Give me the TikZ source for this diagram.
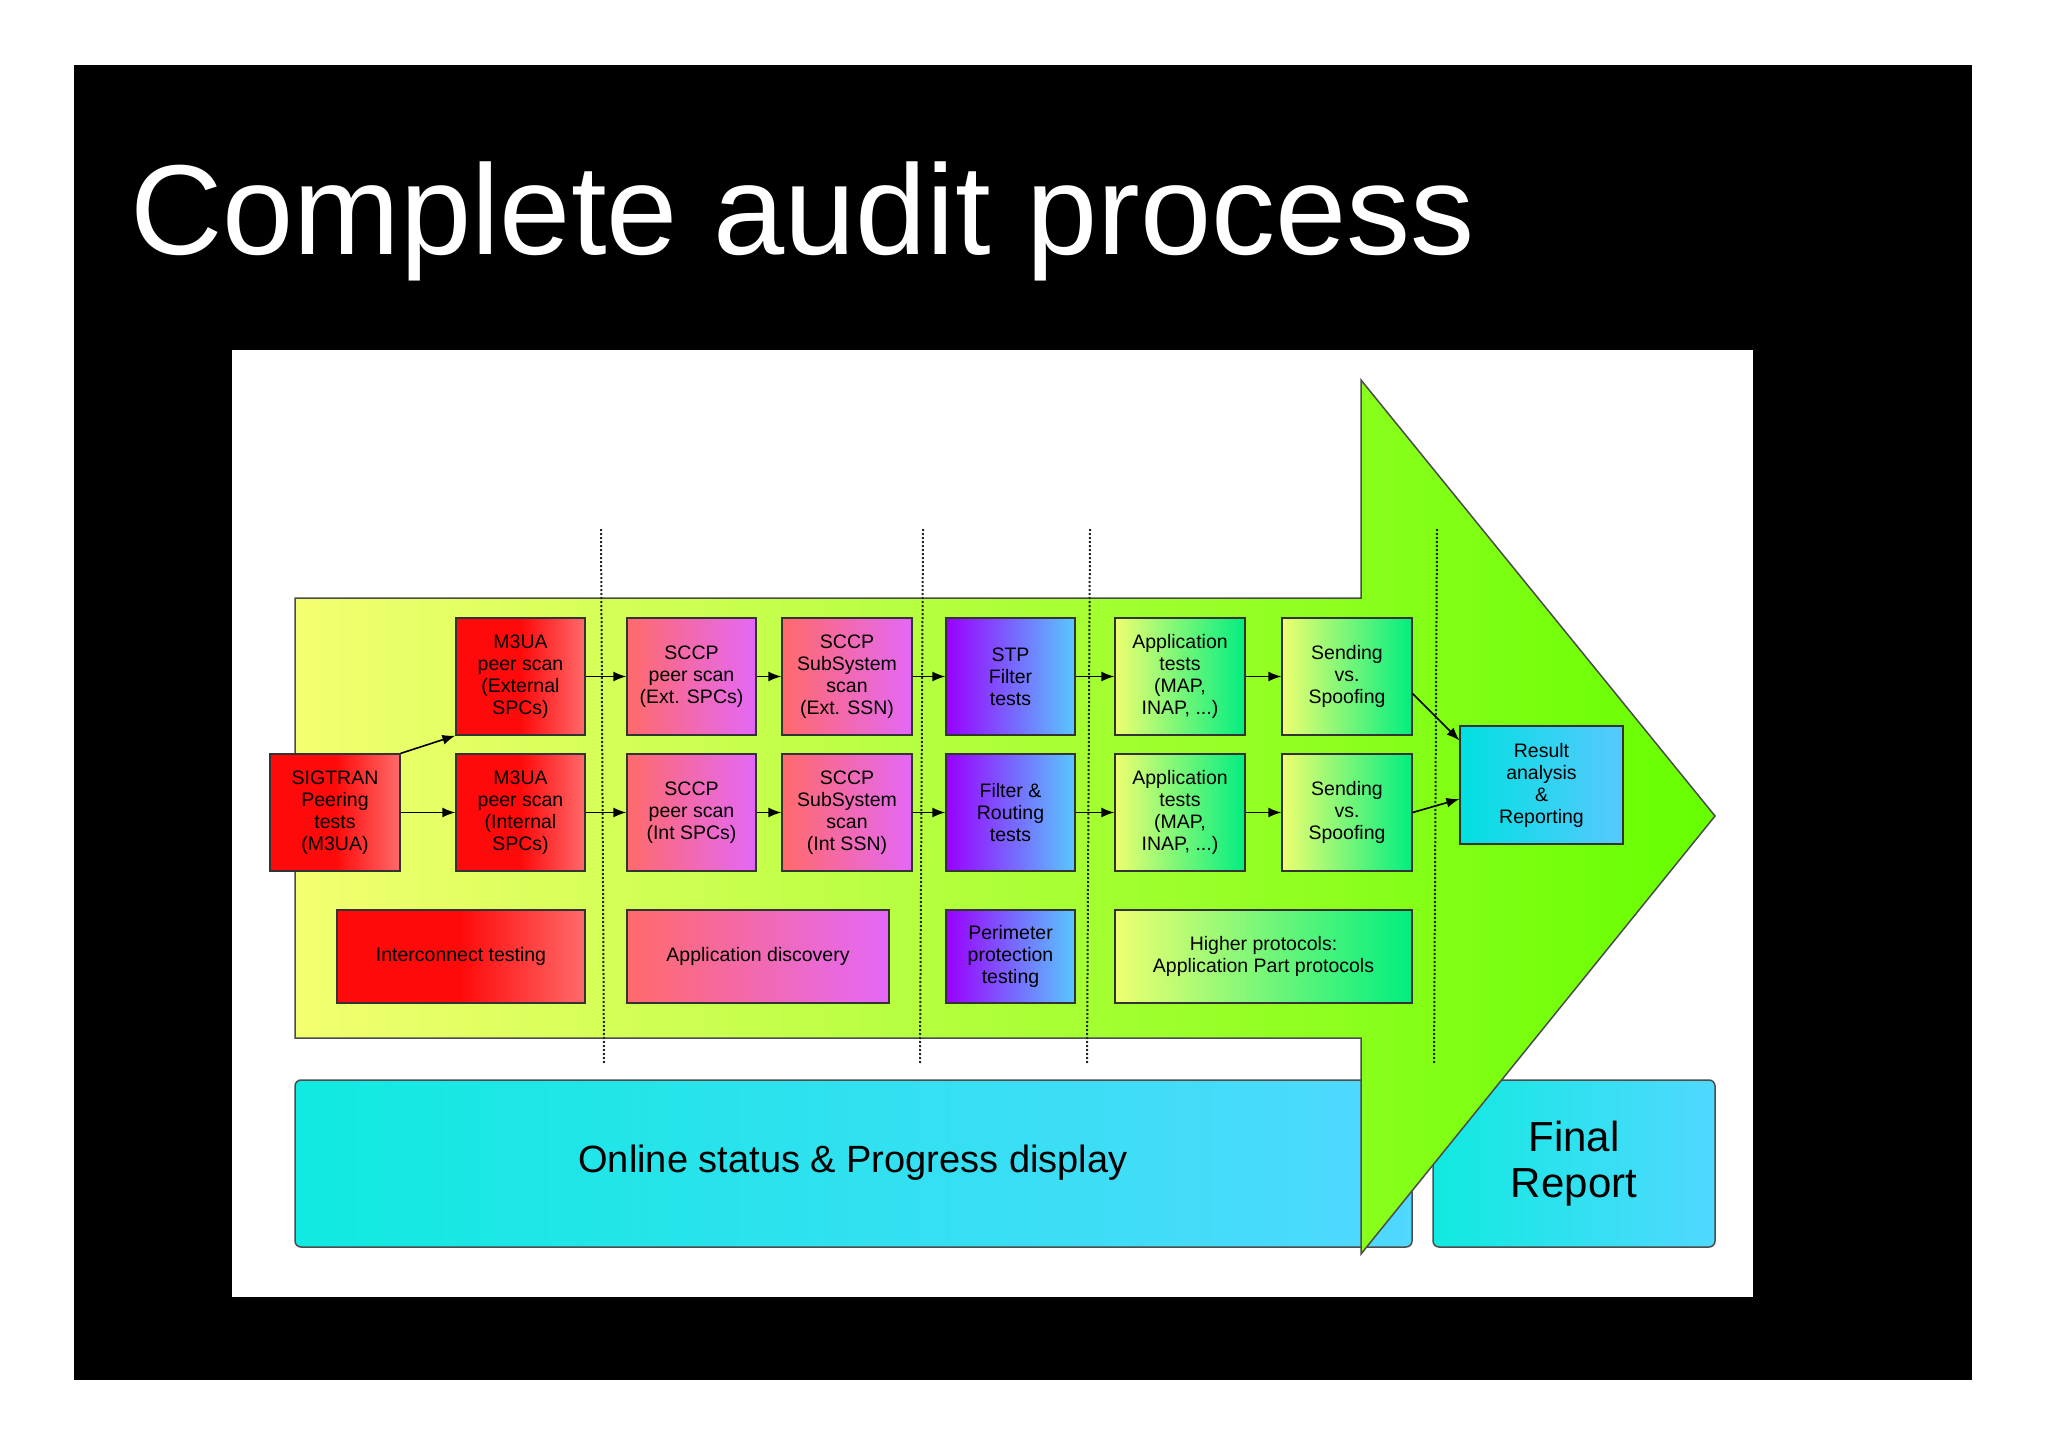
\documentclass[tikz,border=0pt]{standalone}
\usepackage{fontspec}
\setmainfont{Liberation Sans}
\usetikzlibrary{arrows.meta}
\definecolor{rd}{HTML}{FF0A0A}
\definecolor{sal}{HTML}{FF6A6A}
\definecolor{pk}{HTML}{F06AD8}
\definecolor{mag}{HTML}{E468F8}
\definecolor{pur}{HTML}{9A00FF}
\definecolor{lb}{HTML}{58C8FF}
\definecolor{yl}{HTML}{EEFF70}
\definecolor{gr}{HTML}{00EE80}
\definecolor{cy}{HTML}{00E0E0}
\definecolor{ayl}{HTML}{F4FF70}
\definecolor{agr}{HTML}{66FF00}
\definecolor{bcy}{HTML}{10EAE0}
\definecolor{bbl}{HTML}{50D8FF}
\tikzset{
 bx/.style={draw=black!80, line width=1.2pt, inner sep=0pt, align=center, font=\fontsize{19.5}{22}\selectfont},
 red/.style={bx, left color=rd, right color=sal, middle color=rd},
 sccp/.style={bx, left color=sal, right color=mag},
 stp/.style={bx, left color=pur, right color=lb},
 app/.style={bx, left color=yl, right color=gr},
 res/.style={bx, left color=cy, right color=lb},
 ar/.style={-{Latex[length=13pt,width=10pt]}, line width=1.6pt},
 dl/.style={dotted, line width=2pt, black!85}
}
\newcommand{\mybox}[7]{\node[#6, minimum width={(#4-#2)*1pt}, minimum height={(#5-#3)*1pt}] (#1) at ({(#2+#4)/2},{(#3+#5)/2}) {#7};}
\begin{document}
\begin{tikzpicture}[x=1pt,y=-1pt]
\useasboundingbox (0,0) rectangle (2048,1447);
\fill[white] (0,0) rectangle (2048,1447);
\fill[black] (74,65) rectangle (1972,1380);
\fill[white] (232,350) rectangle (1753,1297);
\node[anchor=base west, text=white, font=\fontsize{128}{128}\selectfont, inner sep=0pt] (title) at (130,255) {Complete audit process};
% bottom bars
\node[draw=black!70, line width=1.5pt, rounded corners=6pt, left color=bcy, right color=bbl, minimum width=1117pt, minimum height=167pt, inner sep=0pt] (online) at (853.5,1163.5) {};
\node[draw=black!70, line width=1.5pt, rounded corners=6pt, left color=bcy, right color=bbl, minimum width=282pt, minimum height=167pt, inner sep=0pt, align=center, font=\fontsize{42}{46}\selectfont] (final) at (1574,1163.5) {Final\\Report};
\node[font=\fontsize{38}{42}\selectfont] (ontext) at (853,1163) {Online status \& Progress display};
% arrow
\shade[left color=ayl, right color=agr, draw=black!70, line width=1.5pt] (295,598) -- (1361,598) -- (1361,380) -- (1715,816) -- (1361,1254) -- (1361,1038) -- (295,1038) -- cycle;
% dotted lines
\coordinate (d1a) at (601,529); \coordinate (d1b) at (604,1064);
\coordinate (d2a) at (923,529); \coordinate (d2b) at (920,1064);
\coordinate (d3a) at (1090,529); \coordinate (d3b) at (1087,1064);
\coordinate (d4a) at (1437,529); \coordinate (d4b) at (1434,1064);
\draw[dl] (d1a) -- (d1b); \draw[dl] (d2a) -- (d2b); \draw[dl] (d3a) -- (d3b); \draw[dl] (d4a) -- (d4b);
% boxes
\mybox{sig}{270}{754}{400}{871}{red}{SIGTRAN\\Peering\\tests\\(M3UA)}
\mybox{m1}{456}{618}{585}{735}{red}{M3UA\\peer scan\\(External\\SPCs)}
\mybox{m2}{456}{754}{585}{871}{red}{M3UA\\peer scan\\(Internal\\SPCs)}
\mybox{s1}{627}{618}{756}{735}{sccp}{SCCP\\peer scan\\(Ext. SPCs)}
\mybox{s2}{627}{754}{756}{871}{sccp}{SCCP\\peer scan\\(Int SPCs)}
\mybox{u1}{782}{618}{912}{735}{sccp}{SCCP\\SubSystem\\scan\\(Ext. SSN)}
\mybox{u2}{782}{754}{912}{871}{sccp}{SCCP\\SubSystem\\scan\\(Int SSN)}
\mybox{f1}{946}{618}{1075}{735}{stp}{STP\\Filter\\tests}
\mybox{f2}{946}{754}{1075}{871}{stp}{Filter \&\\Routing\\tests}
\mybox{a1}{1115}{618}{1245}{735}{app}{Application\\tests\\(MAP,\\INAP, ...)}
\mybox{a2}{1115}{754}{1245}{871}{app}{Application\\tests\\(MAP,\\INAP, ...)}
\mybox{v1}{1282}{618}{1412}{735}{app}{Sending\\vs.\\Spoofing}
\mybox{v2}{1282}{754}{1412}{871}{app}{Sending\\vs.\\Spoofing}
\mybox{r}{1460}{726}{1623}{844}{res}{Result\\analysis\\\&\\Reporting}
\mybox{ic}{337}{910}{585}{1003}{red}{Interconnect testing}
\mybox{ad}{627}{910}{889}{1003}{sccp}{Application discovery}
\mybox{pp}{946}{910}{1075}{1003}{stp}{Perimeter\\protection\\testing}
\mybox{hp}{1115}{910}{1412}{1003}{app}{Higher protocols:\\Application Part protocols}
% connectors
\draw[ar] (sig.north east) -- (m1.south west);
\draw[ar] (sig) -- (m2);
\draw[ar] (m1) -- (s1); \draw[ar] (s1) -- (u1); \draw[ar] (u1) -- (f1); \draw[ar] (f1) -- (a1); \draw[ar] (a1) -- (v1);
\draw[ar] (m2) -- (s2); \draw[ar] (s2) -- (u2); \draw[ar] (u2) -- (f2); \draw[ar] (f2) -- (a2); \draw[ar] (a2) -- (v2);
\draw[ar] ([yshift=-17pt]v1.east) -- ([yshift=-15pt]r.north west);
\draw[ar] (v2.east) -- ([yshift=-14pt]r.west);
\end{tikzpicture}
\end{document}
